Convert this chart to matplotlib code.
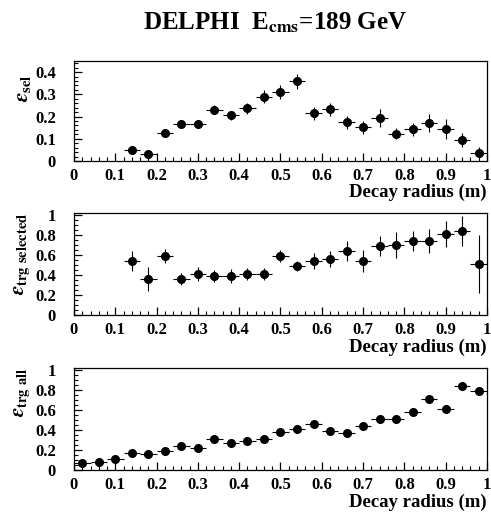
import matplotlib
matplotlib.use("Agg")
import matplotlib.pyplot as plt
from matplotlib.ticker import MultipleLocator

plt.rcParams['font.family'] = ['Liberation Serif', 'DejaVu Serif']
plt.rcParams['font.weight'] = 'bold'
plt.rcParams['mathtext.fontset'] = 'stix'

# srodki binow (szerokosc 0.04 m)
r_sel = [0.14, 0.18, 0.22, 0.26, 0.30, 0.34, 0.38, 0.42, 0.46, 0.50, 0.54,
         0.58, 0.62, 0.66, 0.70, 0.74, 0.78, 0.82, 0.86, 0.90, 0.94, 0.98]
eff_sel = [0.050, 0.030, 0.127, 0.167, 0.165, 0.230, 0.205, 0.237, 0.289, 0.311, 0.358,
           0.215, 0.233, 0.174, 0.152, 0.193, 0.122, 0.142, 0.171, 0.145, 0.094, 0.038]
err_sel = [0.010, 0.010, 0.010, 0.015, 0.015, 0.020, 0.020, 0.025, 0.030, 0.030, 0.035,
           0.030, 0.030, 0.030, 0.030, 0.040, 0.025, 0.030, 0.040, 0.045, 0.030, 0.025]

r_trgsel = r_sel
eff_trgsel = [0.536, 0.355, 0.586, 0.361, 0.411, 0.394, 0.394, 0.411, 0.405, 0.586, 0.487,
              0.536, 0.560, 0.642, 0.536, 0.692, 0.702, 0.742, 0.742, 0.808, 0.841, 0.510]
err_trgsel = [0.10, 0.12, 0.07, 0.06, 0.07, 0.06, 0.07, 0.06, 0.06, 0.06, 0.05,
              0.08, 0.08, 0.10, 0.11, 0.10, 0.13, 0.10, 0.12, 0.13, 0.15, 0.29]

r_all = [0.02, 0.06, 0.10, 0.14, 0.18, 0.22, 0.26, 0.30, 0.34, 0.38, 0.42, 0.46, 0.50,
         0.54, 0.58, 0.62, 0.66, 0.70, 0.74, 0.78, 0.82, 0.86, 0.90, 0.94, 0.98]
eff_all = [0.066, 0.076, 0.106, 0.172, 0.159, 0.192, 0.238, 0.221, 0.314, 0.271, 0.291,
           0.314, 0.380, 0.407, 0.463, 0.387, 0.370, 0.440, 0.512, 0.506, 0.585, 0.711,
           0.612, 0.836, 0.793]
err_all = [0.010, 0.010, 0.015, 0.012, 0.012, 0.012, 0.012, 0.012, 0.015, 0.015, 0.015,
           0.015, 0.015, 0.015, 0.015, 0.015, 0.015, 0.015, 0.020, 0.020, 0.020, 0.020,
           0.030, 0.020, 0.020]

panele = [
    (r_sel, eff_sel, err_sel, r'$\varepsilon_{\mathbf{sel}}$', 0.45, 0.1, 0.02, 0.86,
     [0.1507, 0.6868, 0.8411, 0.1946]),
    (r_trgsel, eff_trgsel, err_trgsel, r'$\varepsilon_{\mathbf{trg\ selected}}$', 1.02, 0.2, 0.05, 1.0,
     [0.1507, 0.3872, 0.8411, 0.1984]),
    (r_all, eff_all, err_all, r'$\varepsilon_{\mathbf{trg\ all}}$', 1.02, 0.2, 0.05, 1.0,
     [0.1507, 0.0856, 0.8411, 0.1984]),
]

fig = plt.figure(figsize=(4.91, 5.14), dpi=100)

for x, y, ey, etykieta, ymax, major, minor, ypos, pozycja in panele:
    ax = fig.add_axes(pozycja)
    ax.errorbar(x, y, yerr=ey, xerr=0.02, fmt='o', color='black', ms=5.5,
                elinewidth=0.8, capsize=0)
    ax.set_xlim(0, 1)
    ax.set_ylim(0, ymax)
    ax.xaxis.set_major_locator(MultipleLocator(0.1))
    ax.xaxis.set_minor_locator(MultipleLocator(0.02))
    ax.yaxis.set_major_locator(MultipleLocator(major))
    ax.yaxis.set_minor_locator(MultipleLocator(minor))
    ax.xaxis.set_major_formatter(plt.FuncFormatter(lambda v, p: f"{v:g}"))
    ax.yaxis.set_major_formatter(plt.FuncFormatter(lambda v, p: f"{v:g}"))
    ax.tick_params(which='both', direction='in', top=False, right=False, labelsize=12)
    ax.tick_params(which='major', length=6, width=0.9)
    ax.tick_params(which='minor', length=3, width=0.8)
    ax.tick_params(axis='y', pad=13)
    ax.tick_params(axis='x', pad=5)
    for s in ax.spines.values():
        s.set_linewidth(0.9)
    ax.set_xlabel('Decay radius (m)', fontsize=13.5, fontweight='bold', ha='right', va='top')
    ax.xaxis.set_label_coords(1.0, -0.23)
    ax.set_ylabel(etykieta, fontsize=15, ha='right')
    ax.yaxis.set_label_coords(-0.1, ypos)

fig.text(0.56, 0.942, r'DELPHI  E$_{\mathbf{cms}}$=189 GeV', fontsize=18,
         fontweight='bold', ha='center', va='baseline')

fig.savefig('out.png', dpi=100)
